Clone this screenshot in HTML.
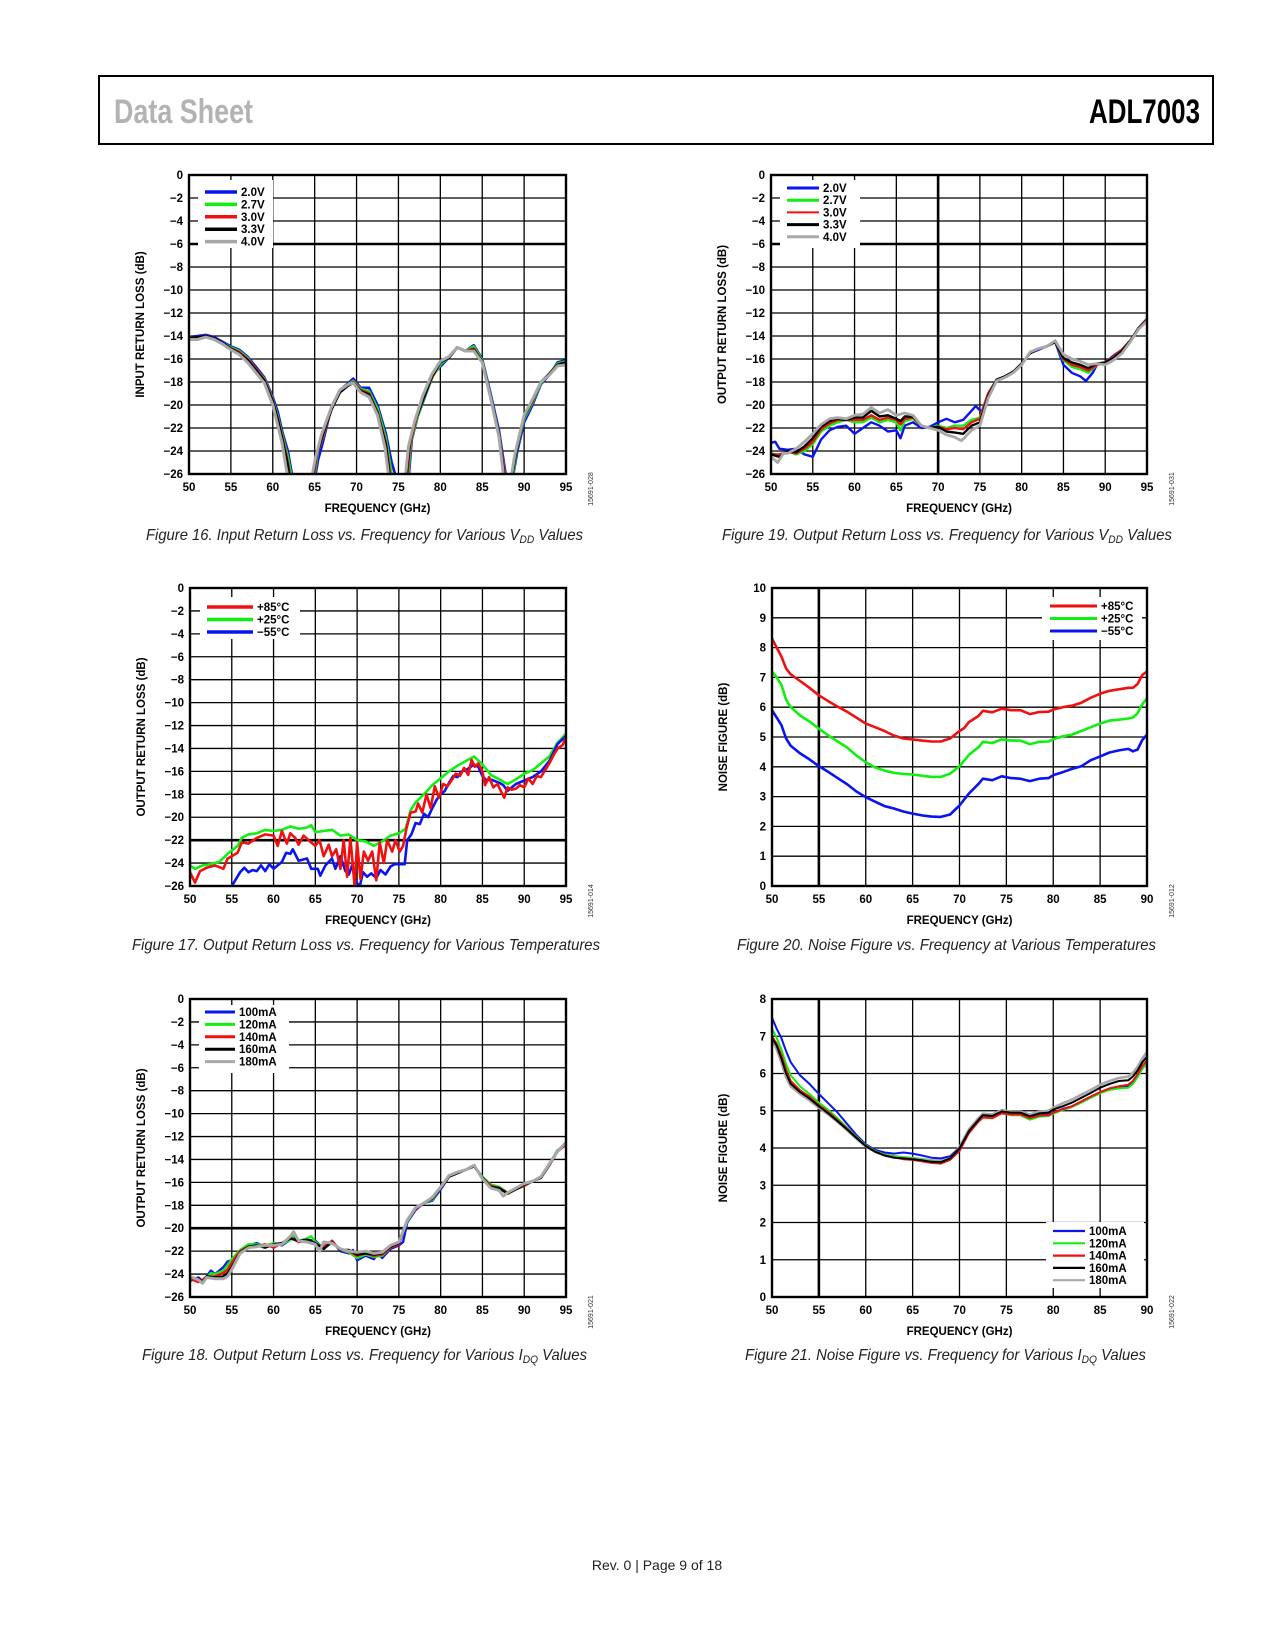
<!DOCTYPE html>
<html><head><meta charset="utf-8"><title>ADL7003 Data Sheet p9</title>
<style>
html,body{margin:0;padding:0;background:#fff;}
#page{position:relative;width:1275px;height:1650px;overflow:hidden;}
svg text{font-family:"Liberation Sans",sans-serif;}
</style></head>
<body>
<div id="page">
<svg id="svg" width="1275" height="1650" viewBox="0 0 1275 1650" xmlns="http://www.w3.org/2000/svg">
  <rect x="99" y="76" width="1114" height="68" fill="none" stroke="#000" stroke-width="2"/>
  <text x="114" y="123" font-size="34" font-weight="bold" fill="#b3b3b3" textLength="139" lengthAdjust="spacingAndGlyphs">Data Sheet</text>
  <text x="1089" y="123" font-size="34" font-weight="bold" fill="#000" textLength="111" lengthAdjust="spacingAndGlyphs">ADL7003</text>

  <text x="146" y="540" font-size="16" font-style="italic" fill="#222" textLength="437" lengthAdjust="spacingAndGlyphs">Figure 16. Input Return Loss vs. Frequency for Various V<tspan font-size="11" dy="3">DD</tspan><tspan dy="-3"> Values</tspan></text>
  <text x="722" y="540" font-size="16" font-style="italic" fill="#222" textLength="450" lengthAdjust="spacingAndGlyphs">Figure 19. Output Return Loss vs. Frequency for Various V<tspan font-size="11" dy="3">DD</tspan><tspan dy="-3"> Values</tspan></text>
  <text x="132" y="950" font-size="16" font-style="italic" fill="#222" textLength="468" lengthAdjust="spacingAndGlyphs">Figure 17. Output Return Loss vs. Frequency for Various Temperatures</text>
  <text x="737" y="950" font-size="16" font-style="italic" fill="#222" textLength="419" lengthAdjust="spacingAndGlyphs">Figure 20. Noise Figure vs. Frequency at Various Temperatures</text>
  <text x="142" y="1360" font-size="16" font-style="italic" fill="#222" textLength="445" lengthAdjust="spacingAndGlyphs">Figure 18. Output Return Loss vs. Frequency for Various I<tspan font-size="11" dy="3">DQ</tspan><tspan dy="-3"> Values</tspan></text>
  <text x="745" y="1360" font-size="16" font-style="italic" fill="#222" textLength="401" lengthAdjust="spacingAndGlyphs">Figure 21. Noise Figure vs. Frequency for Various I<tspan font-size="11" dy="3">DQ</tspan><tspan dy="-3"> Values</tspan></text>

  <text x="657" y="1570" font-size="14" fill="#222" text-anchor="middle">Rev. 0 | Page 9 of 18</text>
</svg>
</div>
<script>
// ---------- Data ----------
var xTicksRL = ["50","55","60","65","70","75","80","85","90","95"];
var yTicksRL = ["0","−2","−4","−6","−8","−10","−12","−14","−16","−18","−20","−22","−24","−26"];
var xTicksNF = ["50","55","60","65","70","75","80","85","90"];
var yTicksNF10 = ["0","1","2","3","4","5","6","7","8","9","10"];
var yTicksNF8 = ["0","1","2","3","4","5","6","7","8"];

var vddLabels = ["2.0V","2.7V","3.0V","3.3V","4.0V"];
var tempLabels = ["+85°C","+25°C","−55°C"];
var idqLabels = ["100mA","120mA","140mA","160mA","180mA"];

// Fig 16: input return loss vs VDD  [GHz, dB]
var f16_blue  = [[50,-14.1],[51,-14.0],[52,-13.9],[53,-14.1],[54,-14.5],[55,-14.9],[56,-15.2],[57,-15.8],[58,-16.7],[59,-17.6],[60,-19.3],[60.6,-20.6],[61.2,-22.5],[61.8,-24],[62.4,-26.5],[65.0,-26.5],[65.4,-24.8],[66.0,-23.2],[67.0,-20.2],[68.0,-18.7],[69.0,-18.1],[69.6,-17.7],[70.5,-18.5],[71.5,-18.5],[72.5,-20],[73.5,-22.5],[74.2,-25],[74.8,-26.5],[76.2,-26.5],[76.6,-23],[77.3,-21],[78.2,-19.2],[79.2,-17.3],[80.2,-16.5],[81,-15.9],[82,-15.0],[83,-15.3],[84,-14.8],[85,-16],[86,-19],[87,-22.2],[87.9,-26.5],[88.6,-26.5],[89.2,-24],[90,-21.5],[91,-20],[92,-18.2],[93,-17.4],[94,-16.3],[95,-16.1]];
var f16_green = [[50,-14.2],[51,-14.1],[52,-14.0],[53,-14.2],[54,-14.6],[55,-15.0],[56,-15.3],[57,-15.9],[58,-16.9],[59,-17.7],[60,-19.5],[60.6,-21],[61.2,-22.8],[61.8,-24.5],[62.3,-26.5],[64.9,-26.5],[65.4,-24],[66.0,-22.8],[67.0,-20.3],[68.0,-18.8],[69.0,-18.2],[69.6,-17.9],[70.5,-18.6],[71.5,-18.8],[72.5,-20.3],[73.5,-22.9],[74.3,-26.5],[76.1,-26.5],[76.5,-23.2],[77.2,-21.2],[78.1,-19.3],[79.1,-17.5],[80.1,-16.4],[81,-15.9],[82,-15.0],[83,-15.3],[84,-14.9],[85,-16.1],[86,-19.2],[87,-22.5],[87.8,-26.5],[88.6,-26.5],[89.1,-24],[90,-21.2],[91,-19.8],[92,-18.1],[93,-17.3],[94,-16.4],[95,-16.2]];
var f16_red   = [[50,-14.2],[51,-14.1],[52,-14.0],[53,-14.2],[54,-14.6],[55,-15.1],[56,-15.4],[57,-16.0],[58,-16.9],[59,-17.8],[60,-19.6],[60.6,-21.2],[61.2,-23],[61.8,-25],[62.1,-26.5],[64.8,-26.5],[65.3,-24.2],[66.0,-22.7],[67.0,-20.4],[68.0,-18.9],[69.0,-18.3],[69.6,-18.0],[70.5,-18.7],[71.5,-19],[72.5,-20.6],[73.5,-23.3],[74.1,-26.5],[76.0,-26.5],[76.4,-23.4],[77.1,-21.3],[78.0,-19.3],[79,-17.6],[80,-16.3],[81,-15.9],[82,-15.0],[83,-15.3],[84,-15.1],[85,-16.2],[86,-19.3],[87,-22.6],[87.8,-26.5],[88.5,-26.5],[89,-24.2],[90,-21],[91,-19.7],[92,-18],[93,-17.3],[94,-16.5],[95,-16.3]];
var f16_black = [[50,-14.2],[51,-14.1],[52,-14.0],[53,-14.2],[54,-14.6],[55,-15.1],[56,-15.5],[57,-16.1],[58,-17.0],[59,-17.9],[60,-19.7],[60.6,-21.3],[61.2,-23.2],[61.8,-25.3],[62.0,-26.5],[64.7,-26.5],[65.2,-24.4],[66.0,-22.5],[67.0,-20.4],[68.0,-18.9],[69.0,-18.3],[69.6,-18.1],[70.5,-18.8],[71.5,-19.1],[72.5,-20.7],[73.5,-23.5],[74.0,-26.5],[75.9,-26.5],[76.3,-23.5],[77.0,-21.4],[78.0,-19.4],[79,-17.5],[80,-16.3],[81,-15.9],[82,-15.0],[83,-15.3],[84,-15.2],[85,-16.2],[86,-19.3],[87,-22.6],[87.7,-26.5],[88.5,-26.5],[89,-24.3],[90,-21],[91,-19.6],[92,-18],[93,-17.3],[94,-16.5],[95,-16.3]];
var f16_gray  = [[50,-14.3],[51,-14.3],[52,-14.1],[53,-14.3],[54,-14.7],[55,-15.2],[56,-15.6],[57,-16.3],[58,-17.2],[59,-18.1],[60,-20],[60.5,-21.5],[61.1,-23.3],[61.6,-25.5],[61.9,-26.5],[64.6,-26.5],[65.1,-24.6],[65.8,-22.6],[67.0,-20.2],[68.0,-18.7],[69.0,-18.2],[69.6,-18.1],[70.5,-18.9],[71.5,-19.3],[72.5,-20.9],[73.4,-23.7],[73.9,-26.5],[75.8,-26.5],[76.2,-23.6],[76.9,-21.5],[77.9,-19.2],[79,-17.3],[80,-16.2],[81,-15.8],[82,-15.0],[83,-15.3],[84,-15.3],[85,-16.3],[86,-19.4],[87,-22.8],[87.6,-26.5],[88.4,-26.5],[88.9,-24.3],[90,-20.9],[91,-19.5],[92,-18],[93,-17.4],[94,-16.6],[95,-16.5]];

// Fig 19: output return loss vs VDD
var f19_blue  = [[50,-23.3],[50.5,-23.2],[51,-23.8],[52,-23.9],[53,-23.8],[54,-24.3],[55,-24.5],[56,-23],[57,-22.2],[58,-21.9],[59,-21.8],[60,-22.5],[61,-22],[62,-21.5],[63,-21.8],[64,-22.3],[65,-22.2],[65.5,-22.9],[66,-21.8],[67,-21.5],[68,-22],[69,-21.9],[70,-21.5],[71,-21.2],[72,-21.5],[73,-21.3],[74,-20.5],[74.5,-20.1],[75.2,-20.6],[76,-19],[77,-17.8],[78,-17.5],[79,-17.1],[80,-16.4],[81,-15.5],[82,-15.2],[83,-14.9],[84,-14.5],[85,-16.5],[86,-17.2],[87,-17.5],[87.7,-17.9],[88.5,-17.2],[89,-16.5],[90,-16.3],[91,-15.7],[92,-15.2],[93,-14.4],[94,-13.3],[95,-12.5]];
var f19_green = [[50,-24.2],[51,-24.4],[52,-24],[53,-24.3],[54,-24],[55,-23.4],[56,-22.3],[57,-21.8],[58,-21.5],[59,-21.3],[60,-21.5],[61,-21.5],[62,-21.1],[63,-21.5],[64,-21.3],[65,-21.5],[65.5,-22.2],[66,-21.4],[67,-21.2],[68,-21.8],[69,-22],[70,-21.8],[71,-22],[72,-21.8],[73,-21.8],[74,-21.3],[75,-21.1],[76,-19],[77,-17.8],[78,-17.5],[79,-17.1],[80,-16.4],[81,-15.5],[82,-15.1],[83,-14.9],[84,-14.5],[85,-16.1],[86,-16.7],[87,-16.9],[88,-17.2],[89,-16.5],[90,-16.3],[91,-15.8],[92,-15.2],[93,-14.4],[94,-13.3],[95,-12.5]];
var f19_red   = [[50,-24.3],[51,-24.3],[52,-24.1],[53,-24.2],[54,-23.8],[55,-23.2],[56,-22.1],[57,-21.6],[58,-21.3],[59,-21.3],[60,-21.3],[61,-21.3],[62,-20.9],[63,-21.3],[64,-21.1],[65,-21.3],[65.5,-21.7],[66,-21.2],[67,-21.1],[68,-21.8],[69,-22],[70,-21.9],[71,-22.1],[72,-22],[73,-22.1],[74,-21.5],[75,-21.2],[76,-19],[77,-17.8],[78,-17.5],[79,-17.1],[80,-16.4],[81,-15.5],[82,-15.1],[83,-14.9],[84,-14.5],[85,-16],[86,-16.5],[87,-16.7],[88,-17],[89,-16.5],[90,-16.3],[91,-15.8],[92,-15.2],[93,-14.4],[94,-13.3],[95,-12.5]];
var f19_black = [[50,-24.3],[51,-24.5],[52,-24],[53,-24.1],[54,-23.6],[55,-22.9],[56,-21.9],[57,-21.4],[58,-21.2],[59,-21.3],[60,-21.1],[61,-21.1],[62,-20.5],[63,-21],[64,-20.9],[65,-21.2],[65.5,-21.4],[66,-21],[67,-21],[68,-21.8],[69,-22],[70,-21.9],[71,-22.3],[72,-22.4],[73,-22.5],[74,-21.8],[75,-21.5],[76,-19.2],[77,-17.8],[78,-17.5],[79,-17.1],[80,-16.4],[81,-15.5],[82,-15.1],[83,-14.9],[84,-14.5],[85,-15.9],[86,-16.3],[87,-16.5],[88,-16.8],[89,-16.4],[90,-16.3],[91,-15.9],[92,-15.3],[93,-14.4],[94,-13.3],[95,-12.6]];
var f19_gray  = [[50,-24.5],[50.8,-25],[51.5,-24.2],[52,-24.2],[53,-23.8],[54,-23.2],[55,-22.5],[56,-21.7],[57,-21.2],[58,-21.1],[59,-21.2],[60,-20.9],[61,-20.8],[62,-20.2],[63,-20.7],[64,-20.4],[65,-20.9],[65.5,-20.8],[66,-20.7],[67,-20.9],[68,-21.8],[69,-22],[70,-22.2],[71,-22.6],[72,-22.8],[72.8,-23.1],[74,-22.2],[75,-21.8],[76,-19.4],[77,-17.9],[78,-17.6],[79,-17.2],[80,-16.5],[81,-15.4],[82,-15.1],[83,-14.9],[84,-14.4],[85,-15.6],[86,-16],[87,-16.2],[88,-16.5],[89,-16.4],[90,-16.5],[91,-16.1],[92,-15.5],[93,-14.5],[94,-13.4],[95,-12.7]];

// Fig 17: output return loss vs temperature
var f17_red   = [[50,-24.8],[50.6,-25.7],[51.2,-24.7],[52,-24.4],[53,-24.2],[54,-24.5],[54.5,-23.6],[55,-23.4],[55.7,-23.1],[56.2,-22.2],[57,-22.3],[58,-21.8],[59,-21.5],[60,-21.6],[60.5,-22.5],[61,-21.2],[61.6,-22.3],[62,-21.4],[62.6,-21.8],[63,-22.4],[63.6,-21.6],[64.2,-22],[65,-22.5],[65.5,-22],[66,-23.4],[66.6,-22.4],[67,-23.4],[67.5,-22.8],[68,-24.5],[68.4,-22],[68.8,-25.2],[69.2,-21.8],[69.7,-26],[70,-22.2],[70.4,-25.4],[70.8,-23],[71.3,-23.8],[71.8,-23],[72.3,-25.5],[72.7,-22.2],[73.2,-24],[73.6,-22],[74.2,-23],[74.6,-22],[75.1,-23],[75.5,-22.5],[75.9,-21],[76.4,-19.6],[77,-19.5],[77.3,-18.8],[77.8,-19.6],[78.3,-18],[78.8,-19.2],[79.3,-17.3],[79.8,-18.3],[80.3,-17.1],[80.8,-17.3],[81.3,-16.8],[81.8,-16.2],[82.3,-16.4],[82.8,-15.7],[83.3,-16.3],[83.7,-15],[84.1,-15.6],[84.5,-15.3],[85,-16],[85.3,-17.2],[85.8,-16.5],[86.3,-17.4],[86.8,-17.1],[87.2,-17.7],[87.6,-18.3],[88,-17.4],[88.5,-17.6],[89,-17.5],[89.5,-17.2],[90,-17.4],[90.5,-16.6],[91,-17.1],[91.5,-16.4],[92,-16.5],[92.5,-15.9],[93,-15.3],[93.5,-14.6],[94,-14],[94.6,-13.7],[95,-13]];
var f17_green = [[50,-24.2],[50.6,-24.5],[51.5,-24.2],[52.5,-24.1],[53.5,-23.9],[54.5,-23.2],[55,-22.9],[55.7,-22.5],[56.2,-21.8],[57,-21.5],[58,-21.4],[59,-21.1],[60,-21.2],[61,-21.1],[62,-20.8],[63,-21],[64,-20.9],[64.5,-20.7],[65,-21.3],[66,-21.2],[67,-21.1],[68,-21.6],[69,-21.5],[70,-22],[71,-22.1],[72,-22.5],[73,-22.1],[74,-21.6],[75,-21.4],[75.8,-21],[76.4,-19.4],[77,-18.7],[78,-18],[79,-17.2],[80,-16.6],[81,-16],[82,-15.5],[83,-15.1],[84,-14.7],[85,-15.4],[86,-16.3],[87,-16.7],[88,-17.1],[89,-16.7],[90,-16.2],[91,-15.9],[92,-15.3],[93,-14.7],[94,-13.5],[95,-12.7]];
var f17_blue  = [[55,-26],[55.5,-25.4],[56,-24.8],[56.5,-24.4],[57,-24.8],[57.5,-24.6],[58,-24.7],[58.5,-24.2],[59,-24.7],[59.5,-24.1],[60,-24.5],[61,-23.9],[61.5,-23.1],[62,-23.2],[62.3,-22.8],[63,-23.8],[64,-23.6],[64.5,-24.5],[65.3,-24.5],[65.6,-25.1],[66.2,-24.2],[67,-23.6],[67.4,-24.5],[68,-23.4],[68.6,-24.7],[69,-25],[69.4,-24.2],[69.8,-25.5],[70.3,-26.1],[70.7,-24.8],[71.2,-25.2],[71.7,-24.9],[72.3,-25.3],[72.8,-24.6],[73.4,-25],[74,-24.3],[74.5,-24.1],[75.1,-24.1],[75.7,-24.1],[76,-22],[76.5,-21.5],[77,-20.5],[77.5,-20.6],[78,-19.7],[78.5,-20],[79,-19.2],[79.5,-18.5],[80,-18],[80.5,-17.7],[81,-17],[81.5,-16.4],[82,-16.5],[82.5,-16],[83,-15.9],[83.6,-15.6],[84,-15.4],[84.5,-15.6],[85,-16.4],[85.5,-16.8],[86,-16.7],[87,-17],[87.5,-17.2],[88,-17.7],[88.5,-17.4],[89,-17.1],[90,-16.8],[91,-16.5],[92,-16],[93,-15.1],[94,-13.6],[95,-12.9]];

// Fig 18: output return loss vs IDQ
var f18_blue  = [[50,-24.6],[51,-24.3],[51.5,-24.6],[52,-24.2],[52.5,-23.7],[53,-24],[54,-23.4],[54.5,-22.9],[55,-22.8],[56,-22],[57,-21.5],[58,-21.3],[59,-21.6],[60,-21.3],[61,-21.5],[62,-21],[62.5,-20.7],[63,-21.2],[64,-21],[65,-21.1],[66,-21.8],[67,-21.1],[68,-22],[69,-22.2],[69.5,-21.9],[70,-22.8],[71,-22.4],[72,-22.7],[72.5,-22.2],[73,-22.6],[74,-21.8],[75,-21.5],[75.5,-21.2],[76,-19.5],[77,-18.4],[78,-17.8],[79,-17.6],[80,-16.6],[81,-15.5],[82,-15.2],[83,-14.9],[84,-14.6],[85,-15.5],[86,-16.2],[87,-16.4],[88,-16.9],[89,-16.6],[90,-16.3],[91,-15.9],[92,-15.6],[93,-14.4],[94,-13.2],[95,-12.7]];
var f18_green = [[50,-24.3],[51,-24.6],[51.5,-24.8],[52,-24.3],[52.5,-23.9],[53,-24],[54,-23.7],[54.5,-23.2],[55,-22.7],[56,-21.9],[57,-21.4],[58,-21.4],[59,-21.5],[60,-21.3],[61,-21.4],[62,-21],[62.5,-20.6],[63,-21.1],[64,-20.9],[64.5,-20.7],[65,-21.2],[66,-21.7],[67,-21.2],[68,-21.9],[69,-22.1],[70,-22.6],[71,-22.3],[72,-22.5],[73,-22.4],[74,-21.7],[75,-21.4],[76,-19.4],[77,-18.3],[78,-17.8],[79,-17.5],[80,-16.5],[81,-15.5],[82,-15.2],[83,-14.9],[84,-14.6],[85,-15.5],[86,-16.2],[87,-16.4],[88,-16.9],[89,-16.6],[90,-16.3],[91,-15.9],[92,-15.6],[93,-14.4],[94,-13.2],[95,-12.7]];
var f18_red   = [[50,-24.4],[51,-24.7],[51.5,-24.5],[52,-24.2],[53,-24.2],[54,-23.9],[54.5,-23.6],[55,-23],[56,-22],[57,-21.6],[58,-21.6],[59,-21.4],[60,-21.7],[61,-21.3],[62,-20.8],[63,-21.2],[64,-21.1],[65,-21.4],[66,-21.6],[67,-21.1],[68,-21.9],[69,-22],[70,-22.4],[71,-22.2],[72,-22.4],[73,-22.3],[74,-21.7],[75,-21.4],[76,-19.3],[77,-18.3],[78,-17.8],[79,-17.4],[80,-16.5],[81,-15.5],[82,-15.2],[83,-14.9],[84,-14.6],[85,-15.6],[86,-16.3],[87,-16.5],[88,-16.9],[89,-16.6],[90,-16.3],[91,-15.9],[92,-15.6],[93,-14.5],[94,-13.3],[95,-12.7]];
var f18_black = [[50,-24.3],[51,-24.4],[51.5,-24.7],[52,-24.2],[53,-24.3],[54,-24.2],[54.5,-23.9],[55,-23.4],[56,-22.1],[57,-21.6],[58,-21.5],[59,-21.7],[60,-21.4],[61,-21.3],[62,-20.9],[63,-21.1],[64,-21],[65,-21.3],[66,-21.8],[67,-21.2],[68,-21.9],[69,-21.9],[70,-22.3],[71,-22.2],[72,-22.3],[73,-22.2],[74,-21.6],[75,-21.3],[76,-19.3],[77,-18.2],[78,-17.8],[79,-17.4],[80,-16.5],[81,-15.5],[82,-15.2],[83,-14.9],[84,-14.6],[85,-15.6],[86,-16.4],[87,-16.5],[88,-17],[89,-16.6],[90,-16.2],[91,-15.9],[92,-15.6],[93,-14.5],[94,-13.3],[95,-12.6]];
var f18_gray  = [[50,-24.2],[51,-24.5],[51.5,-24.8],[52,-24.3],[53,-24.4],[54,-24.4],[54.5,-24.2],[55,-23.6],[56,-22.2],[57,-21.7],[58,-21.6],[59,-21.5],[60,-21.5],[61,-21.4],[62,-20.7],[62.4,-20.3],[63,-21.1],[64,-21.2],[65,-21.4],[65.5,-22],[66,-21.2],[67,-21.3],[68,-21.8],[69,-22],[70,-22.1],[71,-22],[72,-22.2],[73,-22.1],[74,-21.5],[75,-21.2],[76,-19.3],[77,-18.2],[78,-17.8],[79,-17.3],[80,-16.4],[81,-15.4],[82,-15.1],[83,-14.9],[84,-14.5],[85,-15.7],[86,-16.5],[87,-16.7],[87.5,-17.2],[88,-16.9],[89,-16.5],[90,-16.1],[91,-15.9],[92,-15.5],[93,-14.4],[94,-13.3],[95,-12.5]];

// Fig 20: noise figure vs temperature
var f20_red   = [[50,8.3],[50.5,8.0],[51,7.7],[51.5,7.3],[52,7.1],[53,6.88],[54,6.65],[55,6.4],[56,6.2],[57,6.02],[58,5.85],[59,5.65],[60,5.45],[61,5.33],[62,5.2],[63,5.05],[64,4.95],[65,4.92],[66,4.88],[67,4.85],[68,4.85],[69,4.95],[70,5.2],[70.5,5.3],[71,5.5],[72,5.7],[72.5,5.88],[73.5,5.83],[74.5,5.95],[75.5,5.9],[76.5,5.9],[77.5,5.77],[78.5,5.84],[79.5,5.85],[80,5.92],[81,6.0],[82,6.05],[83,6.15],[84,6.32],[85,6.45],[86,6.55],[87,6.6],[88,6.65],[88.5,6.65],[89,6.78],[89.5,7.08],[90,7.2]];
var f20_green = [[50,7.2],[50.5,7.0],[51,6.75],[51.5,6.25],[52,6.0],[53,5.72],[54,5.52],[55,5.28],[56,5.05],[57,4.85],[58,4.65],[59,4.38],[60,4.15],[61,3.98],[62,3.87],[63,3.8],[64,3.76],[65,3.74],[66,3.7],[67,3.66],[68,3.66],[69,3.77],[70,4.02],[71,4.4],[72,4.65],[72.5,4.84],[73.5,4.8],[74.5,4.92],[75.5,4.88],[76.5,4.88],[77.5,4.76],[78.5,4.84],[79.5,4.85],[80,4.93],[81,5.02],[82,5.08],[83,5.2],[84,5.33],[85,5.45],[86,5.55],[87,5.58],[88,5.62],[88.5,5.65],[89,5.8],[89.5,6.1],[90,6.3]];
var f20_blue  = [[50,5.9],[50.5,5.65],[51,5.4],[51.5,4.95],[52,4.7],[53,4.45],[54,4.25],[55,4.02],[56,3.83],[57,3.62],[58,3.42],[59,3.17],[60,2.98],[61,2.83],[62,2.68],[63,2.6],[64,2.5],[65,2.43],[66,2.37],[67,2.33],[68,2.32],[69,2.4],[70,2.7],[71,3.1],[72,3.42],[72.5,3.6],[73.5,3.55],[74.5,3.68],[75.5,3.62],[76.5,3.6],[77.5,3.52],[78.5,3.6],[79.5,3.62],[80,3.72],[81,3.82],[82,3.93],[83,4.02],[84,4.22],[85,4.35],[86,4.48],[87,4.55],[88,4.6],[88.5,4.52],[89,4.58],[89.5,4.9],[90,5.08]];

// Fig 21: noise figure vs IDQ
var f21_blue  = [[50,7.5],[50.5,7.2],[51,6.95],[51.5,6.6],[52,6.3],[53,5.95],[54,5.72],[55,5.45],[56,5.2],[57,4.95],[58,4.65],[59,4.35],[60,4.1],[61,3.95],[62,3.88],[63,3.85],[64,3.88],[65,3.85],[66,3.8],[67,3.74],[68,3.72],[69,3.78],[70,4.0],[71,4.45],[72,4.75],[72.5,4.88],[73.5,4.86],[74.5,4.97],[75.5,4.93],[76.5,4.92],[77.5,4.8],[78.5,4.88],[79.5,4.9],[80,4.95],[81,5.05],[82,5.12],[83,5.25],[84,5.38],[85,5.5],[86,5.58],[87,5.62],[88,5.65],[88.5,5.75],[89,5.92],[89.5,6.15],[90,6.25]];
var f21_green = [[50,7.2],[50.5,6.95],[51,6.65],[51.5,6.25],[52,5.95],[53,5.65],[54,5.45],[55,5.22],[56,5.02],[57,4.8],[58,4.55],[59,4.3],[60,4.07],[61,3.92],[62,3.82],[63,3.78],[64,3.74],[65,3.72],[66,3.68],[67,3.64],[68,3.63],[69,3.72],[70,3.98],[71,4.45],[72,4.73],[72.5,4.85],[73.5,4.83],[74.5,4.93],[75.5,4.88],[76.5,4.88],[77.5,4.76],[78.5,4.84],[79.5,4.86],[80,4.92],[81,5.02],[82,5.1],[83,5.22],[84,5.35],[85,5.47],[86,5.56],[87,5.6],[88,5.62],[88.5,5.72],[89,5.9],[89.5,6.12],[90,6.28]];
var f21_red   = [[50,7.0],[50.5,6.8],[51,6.5],[51.5,6.1],[52,5.8],[53,5.55],[54,5.38],[55,5.15],[56,4.97],[57,4.75],[58,4.52],[59,4.28],[60,4.05],[61,3.9],[62,3.8],[63,3.75],[64,3.7],[65,3.68],[66,3.64],[67,3.6],[68,3.58],[69,3.68],[70,3.92],[71,4.4],[72,4.7],[72.5,4.82],[73.5,4.8],[74.5,4.93],[75.5,4.9],[76.5,4.9],[77.5,4.8],[78.5,4.87],[79.5,4.88],[80,4.95],[81,5.04],[82,5.12],[83,5.25],[84,5.38],[85,5.5],[86,5.6],[87,5.66],[88,5.7],[88.5,5.8],[89,5.98],[89.5,6.2],[90,6.35]];
var f21_black = [[50,6.95],[50.5,6.75],[51,6.4],[51.5,6.0],[52,5.72],[53,5.5],[54,5.33],[55,5.12],[56,4.93],[57,4.72],[58,4.5],[59,4.27],[60,4.05],[61,3.9],[62,3.8],[63,3.74],[64,3.72],[65,3.7],[66,3.67],[67,3.63],[68,3.62],[69,3.72],[70,3.98],[71,4.45],[72,4.75],[72.5,4.88],[73.5,4.86],[74.5,4.98],[75.5,4.95],[76.5,4.95],[77.5,4.85],[78.5,4.93],[79.5,4.95],[80,5.03],[81,5.12],[82,5.22],[83,5.35],[84,5.48],[85,5.62],[86,5.72],[87,5.8],[88,5.82],[88.5,5.92],[89,6.08],[89.5,6.3],[90,6.45]];
var f21_gray  = [[50,6.9],[50.5,6.65],[51,6.3],[51.5,5.9],[52,5.65],[53,5.45],[54,5.28],[55,5.08],[56,4.9],[57,4.7],[58,4.48],[59,4.25],[60,4.04],[61,3.9],[62,3.82],[63,3.78],[64,3.75],[65,3.73],[66,3.7],[67,3.67],[68,3.66],[69,3.76],[70,4.02],[71,4.5],[72,4.8],[72.5,4.92],[73.5,4.9],[74.5,5.02],[75.5,4.98],[76.5,4.98],[77.5,4.9],[78.5,4.98],[79.5,5.0],[80,5.08],[81,5.2],[82,5.3],[83,5.43],[84,5.56],[85,5.7],[86,5.8],[87,5.88],[88,5.92],[88.5,6.02],[89,6.18],[89.5,6.4],[90,6.58]];

// ---------- Rendering ----------
var NS = "http://www.w3.org/2000/svg";
var svg = document.getElementById("svg");
function mk(tag, attrs, parent) {
  var e = document.createElementNS(NS, tag);
  for (var k in attrs) e.setAttribute(k, attrs[k]);
  (parent || svg).appendChild(e);
  return e;
}
var chartCount = 0;
function drawChart(c) {
  chartCount++;
  var g = mk("g", {});
  
  
  var X = function (v) { return c.x + (v - c.xmin) / (c.xmax - c.xmin) * c.w; };
  var Y = function (v) { return c.y + (c.ymax - v) / (c.ymax - c.ymin) * c.h; };
  var clipId = "clip" + chartCount;
  var cp = mk("clipPath", { id: clipId }, g);
  mk("rect", { x: c.x, y: c.y, width: c.w, height: c.h }, cp);
  // grid
  var i, v, e;
  for (i = 0; i < c.xTicks.length; i++) {
    v = parseFloat(c.xTicks[i]);
    e = mk("line", { x1: X(v), x2: X(v), y1: c.y, y2: c.y + c.h, stroke: "#000", "stroke-width": (v === c.thickX ? 2.6 : 1.3) }, g);
    
    
    e = mk("text", { x: X(v), y: c.y + c.h + 17, "font-size": 11.5, "font-weight": "bold", "text-anchor": "middle" }, g);
    e.textContent = c.xTicks[i];
    
    
  }
  for (i = 0; i < c.yTicks.length; i++) {
    v = parseFloat(c.yTicks[i].replace("−", "-"));
    e = mk("line", { x1: c.x, x2: c.x + c.w, y1: Y(v), y2: Y(v), stroke: "#000", "stroke-width": (v === c.thickY ? 2.6 : 1.3) }, g);
    
    
    e = mk("text", { x: c.x - 6, y: Y(v) + 4, "font-size": 11.5, "font-weight": "bold", "text-anchor": "end" }, g);
    e.textContent = c.yTicks[i];
    
    
  }
  // legend background
  var L = c.legend;
  mk("rect", { x: L.bx, y: L.by, width: L.bw, height: L.bh, fill: "#fff" }, g);
  // series
  for (i = 0; i < c.series.length; i++) {
    var s = c.series[i];
    var d = s.data.map(function (p, j) { return (j ? "L" : "M") + X(p[0]).toFixed(1) + "," + Y(p[1]).toFixed(1); }).join("");
    e = mk("path", { d: d, fill: "none", stroke: s.color, "stroke-width": s.w || c.lw, "stroke-linejoin": "round", "stroke-linecap": "round", "clip-path": "url(#" + clipId + ")" }, g);
    
    
  }
  // legend entries
  for (i = 0; i < L.order.length; i++) {
    var si = c.series[L.order[i]];
    var ly = L.y0 + i * L.dy;
    e = mk("line", { x1: L.x1, x2: L.x2, y1: ly, y2: ly, stroke: si.color, "stroke-width": si.lw || c.llw }, g);
    
    
    e = mk("text", { x: L.x2 + 4, y: ly + 4, "font-size": 11.5, "font-weight": "bold" }, g);
    e.textContent = si.label;
    
    
  }
  // frame
  e = mk("rect", { x: c.x, y: c.y, width: c.w, height: c.h, fill: "none", stroke: "#000", "stroke-width": 2.4 }, g);
  
  
  // axis titles
  e = mk("text", { x: c.x + c.w / 2, y: c.y + c.h + 38, "font-size": 11.5, "font-weight": "bold", "text-anchor": "middle" }, g);
  e.textContent = "FREQUENCY (GHz)";
  
  
  var ty = c.y + c.h / 2;
  e = mk("text", { x: c.x - 45, y: ty, "font-size": 11.5, "font-weight": "bold", "text-anchor": "middle", transform: "rotate(-90 " + (c.x - 45) + " " + ty + ")" }, g);
  e.textContent = c.yTitle;
  
  
  var ix = c.x + c.w + 27, iy = c.y + c.h + 15;
  e = mk("text", { x: ix, y: iy, "font-size": 7, fill: "#333", "text-anchor": "middle", transform: "rotate(-90 " + ix + " " + iy + ")" }, g);
  e.textContent = c.id;
  
  
}

var COL = { blue: "#0a14f0", green: "#10f010", red: "#f01010", black: "#000", gray: "#a8a8a8" };

drawChart({ name: "chart-fig16-input-return-loss", x: 189, y: 175, w: 377, h: 299, xmin: 50, xmax: 95, ymin: -26, ymax: 0,
  xTicks: xTicksRL, yTicks: yTicksRL, thickX: null, thickY: -6, lw: 2.6, llw: 3.5,
  yTitle: "INPUT RETURN LOSS (dB)", id: "15691-028",
  series: [{ label: vddLabels[0], color: COL.blue, data: f16_blue }, { label: vddLabels[1], color: COL.green, data: f16_green },
           { label: vddLabels[2], color: COL.red, data: f16_red }, { label: vddLabels[3], color: COL.black, data: f16_black },
           { label: vddLabels[4], color: COL.gray, data: f16_gray, w: 3 }],
  legend: { bx: 198, by: 180, bw: 75, bh: 68, x1: 205, x2: 237, y0: 192, dy: 12.4, order: [0, 1, 2, 3, 4] } });

drawChart({ name: "chart-fig19-output-return-loss-vdd", x: 771, y: 175, w: 376, h: 299, xmin: 50, xmax: 95, ymin: -26, ymax: 0,
  xTicks: xTicksRL, yTicks: yTicksRL, thickX: 70, thickY: -6, lw: 2.4, llw: 3,
  yTitle: "OUTPUT RETURN LOSS (dB)", id: "15691-031",
  series: [{ label: vddLabels[0], color: COL.blue, data: f19_blue }, { label: vddLabels[1], color: COL.green, data: f19_green },
           { label: vddLabels[2], color: COL.red, data: f19_red, lw: 2 }, { label: vddLabels[3], color: COL.black, data: f19_black },
           { label: vddLabels[4], color: COL.gray, data: f19_gray, w: 2.8 }],
  legend: { bx: 780, by: 180, bw: 80, bh: 68, x1: 787, x2: 819, y0: 188, dy: 12.2, order: [0, 1, 2, 3, 4] } });

drawChart({ name: "chart-fig17-output-return-loss-temp", x: 190, y: 588, w: 376, h: 298, xmin: 50, xmax: 95, ymin: -26, ymax: 0,
  xTicks: xTicksRL, yTicks: yTicksRL, thickX: null, thickY: -22, lw: 2.6, llw: 3.5,
  yTitle: "OUTPUT RETURN LOSS (dB)", id: "15691-014",
  series: [{ label: tempLabels[1], color: COL.green, data: f17_green }, { label: tempLabels[2], color: COL.blue, data: f17_blue },
           { label: tempLabels[0], color: COL.red, data: f17_red }],
  legend: { bx: 200, by: 597, bw: 100, bh: 42, x1: 207, x2: 253, y0: 607, dy: 12.5, order: [2, 0, 1] } });

drawChart({ name: "chart-fig20-noise-figure-temp", x: 772, y: 588, w: 375, h: 298, xmin: 50, xmax: 90, ymin: 0, ymax: 10,
  xTicks: xTicksNF, yTicks: yTicksNF10, thickX: 55, thickY: null, lw: 2.6, llw: 3,
  yTitle: "NOISE FIGURE (dB)", id: "15691-012",
  series: [{ label: tempLabels[0], color: COL.red, data: f20_red }, { label: tempLabels[1], color: COL.green, data: f20_green },
           { label: tempLabels[2], color: COL.blue, data: f20_blue }],
  legend: { bx: 1042, by: 597, bw: 100, bh: 43, x1: 1050, x2: 1097, y0: 606, dy: 12.5, order: [0, 1, 2] } });

drawChart({ name: "chart-fig18-output-return-loss-idq", x: 190, y: 999, w: 376, h: 298, xmin: 50, xmax: 95, ymin: -26, ymax: 0,
  xTicks: xTicksRL, yTicks: yTicksRL, thickX: null, thickY: -20, lw: 2.4, llw: 3,
  yTitle: "OUTPUT RETURN LOSS (dB)", id: "15691-021",
  series: [{ label: idqLabels[0], color: COL.blue, data: f18_blue }, { label: idqLabels[1], color: COL.green, data: f18_green },
           { label: idqLabels[2], color: COL.red, data: f18_red }, { label: idqLabels[3], color: COL.black, data: f18_black },
           { label: idqLabels[4], color: COL.gray, data: f18_gray, w: 3 }],
  legend: { bx: 199, by: 1005, bw: 90, bh: 68, x1: 205, x2: 235, y0: 1012, dy: 12.4, order: [0, 1, 2, 3, 4] } });

drawChart({ name: "chart-fig21-noise-figure-idq", x: 772, y: 999, w: 375, h: 298, xmin: 50, xmax: 90, ymin: 0, ymax: 8,
  xTicks: xTicksNF, yTicks: yTicksNF8, thickX: 55, thickY: null, lw: 2, llw: 2.2,
  yTitle: "NOISE FIGURE (dB)", id: "15691-022",
  series: [{ label: idqLabels[4], color: COL.gray, data: f21_gray, w: 2.6 }, { label: idqLabels[0], color: COL.blue, data: f21_blue },
           { label: idqLabels[1], color: COL.green, data: f21_green }, { label: idqLabels[2], color: COL.red, data: f21_red },
           { label: idqLabels[3], color: COL.black, data: f21_black }],
  legend: { bx: 1046, by: 1222, bw: 98, bh: 66, x1: 1053, x2: 1085, y0: 1231, dy: 12.3, order: [1, 2, 3, 4, 0] } });
</script>
</body></html>
